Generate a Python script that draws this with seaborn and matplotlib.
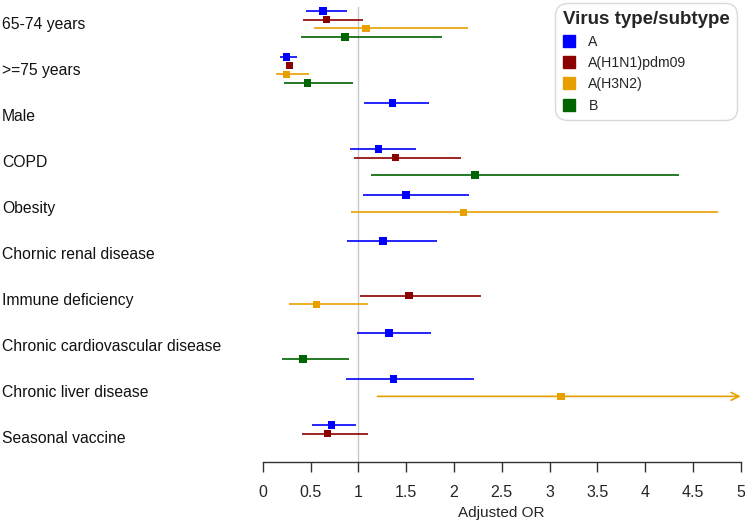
import numpy as np
import pandas as pd
import matplotlib
matplotlib.use("Agg")
import matplotlib.pyplot as plt
import matplotlib.transforms as mtransforms
from matplotlib.lines import Line2D
import seaborn as sns

nan = np.nan

groups = ["65-74 years", ">=75 years", "Male", "COPD", "Obesity",
          "Chornic renal disease", "Immune deficiency",
          "Chronic cardiovascular disease", "Chronic liver disease",
          "Seasonal vaccine"]

virus_types = ["A", "A(H1N1)pdm09", "A(H3N2)", "B"]
colors = ["#0000FF", "#8B0000", "#E8A000", "#006400"]

# point estimates and 95% CI per virus type (nan = not in model)
a_est = [0.63, 0.25, 1.36, 1.21, 1.50, 1.26, nan, 1.32, 1.37, 0.72]
a_lo = [0.45, 0.18, 1.06, 0.91, 1.05, 0.88, nan, 0.99, 0.87, 0.52]
a_hi = [0.88, 0.36, 1.74, 1.60, 2.16, 1.82, nan, 1.76, 2.21, 0.98]

h1_est = [0.67, 0.28, nan, 1.39, nan, nan, 1.53, nan, nan, 0.68]
h1_lo = [0.42, 0.26, nan, 0.95, nan, nan, 1.02, nan, nan, 0.41]
h1_hi = [1.05, 0.30, nan, 2.07, nan, nan, 2.28, nan, nan, 1.10]

h3_est = [1.08, 0.25, nan, nan, 2.10, nan, 0.56, nan, 3.12, nan]
h3_lo = [0.54, 0.14, nan, nan, 0.92, nan, 0.28, nan, 1.20, nan]
h3_hi = [2.15, 0.48, nan, nan, 4.76, nan, 1.10, nan, 5.80, nan]

b_est = [0.86, 0.47, nan, 2.22, nan, nan, nan, 0.42, nan, nan]
b_lo = [0.40, 0.22, nan, 1.13, nan, nan, nan, 0.20, nan, nan]
b_hi = [1.88, 0.94, nan, 4.35, nan, nan, nan, 0.90, nan, nan]

x_ticks = [0, 0.5, 1, 1.5, 2, 2.5, 3, 3.5, 4, 4.5, 5]
x_max = 5

est_all = [a_est, h1_est, h3_est, b_est]
lo_all = [a_lo, h1_lo, h3_lo, b_lo]
hi_all = [a_hi, h1_hi, h3_hi, b_hi]

rows = []
for k, vt in enumerate(virus_types):
    for i, g in enumerate(groups):
        if not np.isnan(est_all[k][i]):
            rows.append({"group": g, "gi": i, "slot": k, "virus": vt,
                         "est": est_all[k][i], "lo": lo_all[k][i], "hi": hi_all[k][i]})
df = pd.DataFrame(rows)
df["y"] = df["gi"] + (df["slot"] - 1.5) * 0.19

sns.set_theme(style="white")
plt.rcParams["font.family"] = ["Liberation Sans", "DejaVu Sans"]

fig = plt.figure(figsize=(7.45, 5.22), dpi=100)
W, H = 745, 522
ax_top, ax_bot = 0, 461.7
ax = fig.add_axes([262.7 / W, 1 - ax_bot / H, (740.7 - 262.7) / W, (ax_bot - ax_top) / H])

pal = dict(zip(virus_types, colors))
ax.axvline(1, color="#c8c8c8", lw=1, ymax=0.985, zorder=0)

for _, r in df.iterrows():
    c = pal[r["virus"]]
    if r["hi"] > x_max:
        ax.annotate("", xy=(x_max, r["y"]), xytext=(r["lo"], r["y"]),
                    arrowprops=dict(arrowstyle="->", color=c, lw=1.2,
                                    shrinkA=0, shrinkB=0, mutation_scale=14))
    else:
        ax.hlines(r["y"], r["lo"], r["hi"], color=c, lw=1.2, zorder=1)

sns.scatterplot(data=df, x="est", y="y", hue="virus", palette=pal, marker="s",
                s=28, edgecolor="none", legend=False, ax=ax, zorder=3)

ax.set_xlim(0, x_max)
ax.set_ylim((ax_bot - 24) / 46, (ax_top - 24) / 46)
ax.set_yticks([])
ax.set_ylabel("")
ax.set_xticks(x_ticks)
ax.set_xticklabels([f"{t:g}" for t in x_ticks], fontsize=11.5)
ax.tick_params(axis="x", direction="out", length=7, width=1, color="#333333",
               pad=10, bottom=True)
for s in ["top", "left", "right"]:
    ax.spines[s].set_visible(False)
ax.spines["bottom"].set_color("#333333")
ax.spines["bottom"].set_linewidth(1)
ax.spines["bottom"].set_bounds(0, x_max)
ax.set_xlabel("Adjusted OR", fontsize=11, labelpad=4)

trans = mtransforms.blended_transform_factory(fig.transFigure, ax.transData)
for i, g in enumerate(groups):
    ax.text(2 / W, i + 0.02, g, transform=trans, ha="left", va="center",
            fontsize=11.3, color="#111111")

handles = [Line2D([], [], marker="s", linestyle="none", color=c, markersize=8.5)
           for c in colors]
leg = ax.legend(handles, virus_types, title="Virus type/subtype",
                loc="upper right", bbox_to_anchor=(1.008, 1.008), frameon=True,
                fontsize=10.2, title_fontsize=13.5, handlelength=0.9,
                handletextpad=0.9, labelspacing=0.5, borderpad=0.55,
                fancybox=True, alignment="left")
leg.get_title().set_fontweight("bold")
leg.get_frame().set_edgecolor("#d0d0d0")
leg.get_frame().set_linewidth(1)
leg.get_frame().set_boxstyle("round", pad=0, rounding_size=0.9)

fig.savefig("out.png", dpi=100)
